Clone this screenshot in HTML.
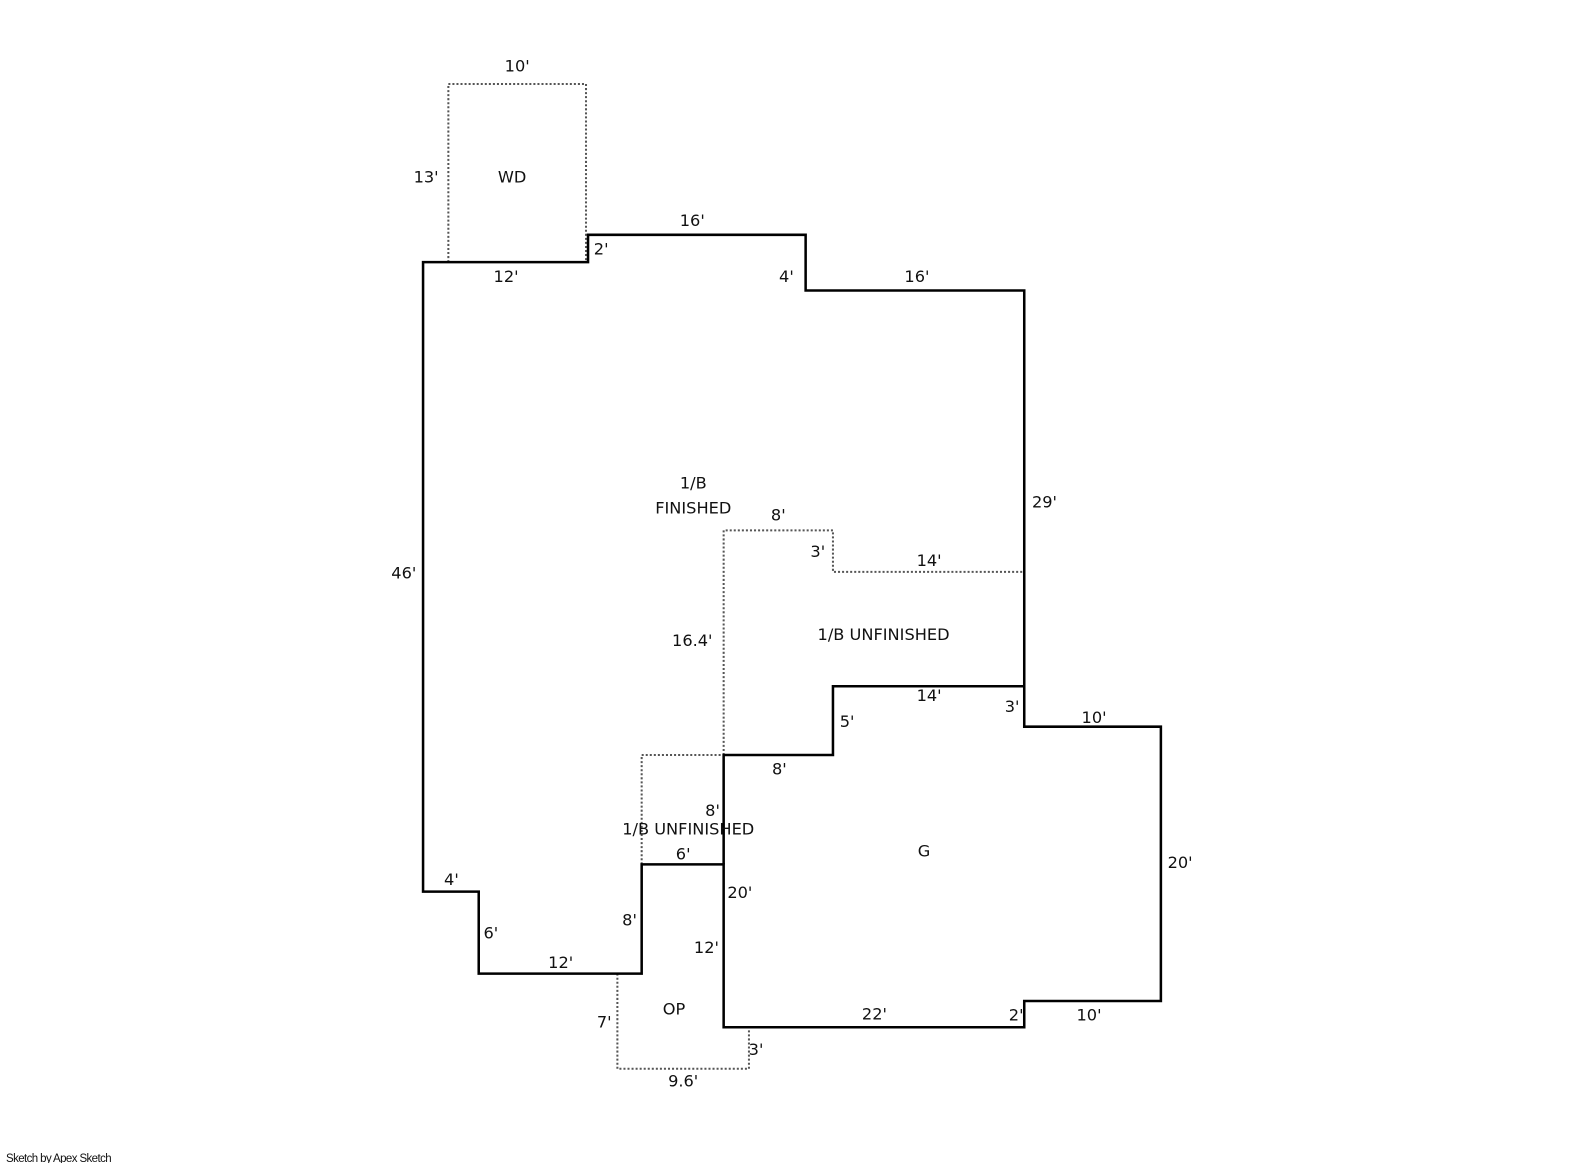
<!DOCTYPE html>
<html><head><style>body{margin:0;background:#fff}svg text{font-family:"DejaVu Sans","Liberation Sans",sans-serif;font-size:16px;fill:#111;text-anchor:middle;dominant-baseline:central}</style></head>
<body>
<svg width="1585" height="1163" xmlns="http://www.w3.org/2000/svg">
<g transform="scale(1.0121)">
<g fill="none" stroke="#555" stroke-width="2" stroke-dasharray="2,2">
<polyline points="443,259 443,83 579,83 579,259"/>
<polyline points="715,746 715,524 823,524 823,565 1012,565"/>
<polyline points="634,854 634,746 715,746"/>
<polyline points="610,962 610,1056 740,1056 740,1015"/>
</g>
<g fill="none" stroke="#000" stroke-width="2.5">
<polygon points="418,259 581,259 581,232 796,232 796,287 1012,287 1012,718 1147,718 1147,989 1012,989 1012,1015 715,1015 715,854 634,854 634,962 473,962 473,881 418,881"/>
<polyline points="715,854 715,746 823,746 823,678 1012,678"/>
</g>
<text x="511" y="65">10'</text><text x="421" y="175">13'</text><text x="506" y="175">WD</text>
<text x="684" y="218">16'</text><text x="594" y="246">2'</text><text x="500" y="273">12'</text>
<text x="777" y="273">4'</text><text x="906" y="273">16'</text>
<text x="1032" y="496">29'</text><text x="399" y="566">46'</text>
<text x="685" y="477">1/B</text><text x="685" y="502">FINISHED</text>
<text x="769" y="509">8'</text><text x="808" y="545">3'</text><text x="918" y="554">14'</text>
<text x="684" y="633">16.4'</text><text x="873" y="627">1/B UNFINISHED</text>
<text x="918" y="687">14'</text><text x="1000" y="698">3'</text><text x="837" y="713">5'</text>
<text x="1081" y="709">10'</text><text x="770" y="760">8'</text>
<text x="704" y="801">8'</text><text x="680" y="819">1/B UNFINISHED</text>
<text x="675" y="844">6'</text><text x="913" y="841">G</text><text x="1166" y="852">20'</text>
<text x="446" y="869">4'</text><text x="731" y="882">20'</text><text x="622" y="909">8'</text>
<text x="485" y="922">6'</text><text x="698" y="936">12'</text><text x="554" y="951">12'</text>
<text x="666" y="997">OP</text><text x="597" y="1010">7'</text><text x="864" y="1002">22'</text>
<text x="1004" y="1003">2'</text><text x="1076" y="1003">10'</text><text x="747" y="1037">3'</text>
<text x="675" y="1068">9.6'</text>
</g>
<text x="6" y="1159" style="font-size:11.5px;text-anchor:start;font-family:'Liberation Sans',sans-serif;letter-spacing:-0.6px">Sketch by Apex Sketch</text>
</svg>
</body></html>
